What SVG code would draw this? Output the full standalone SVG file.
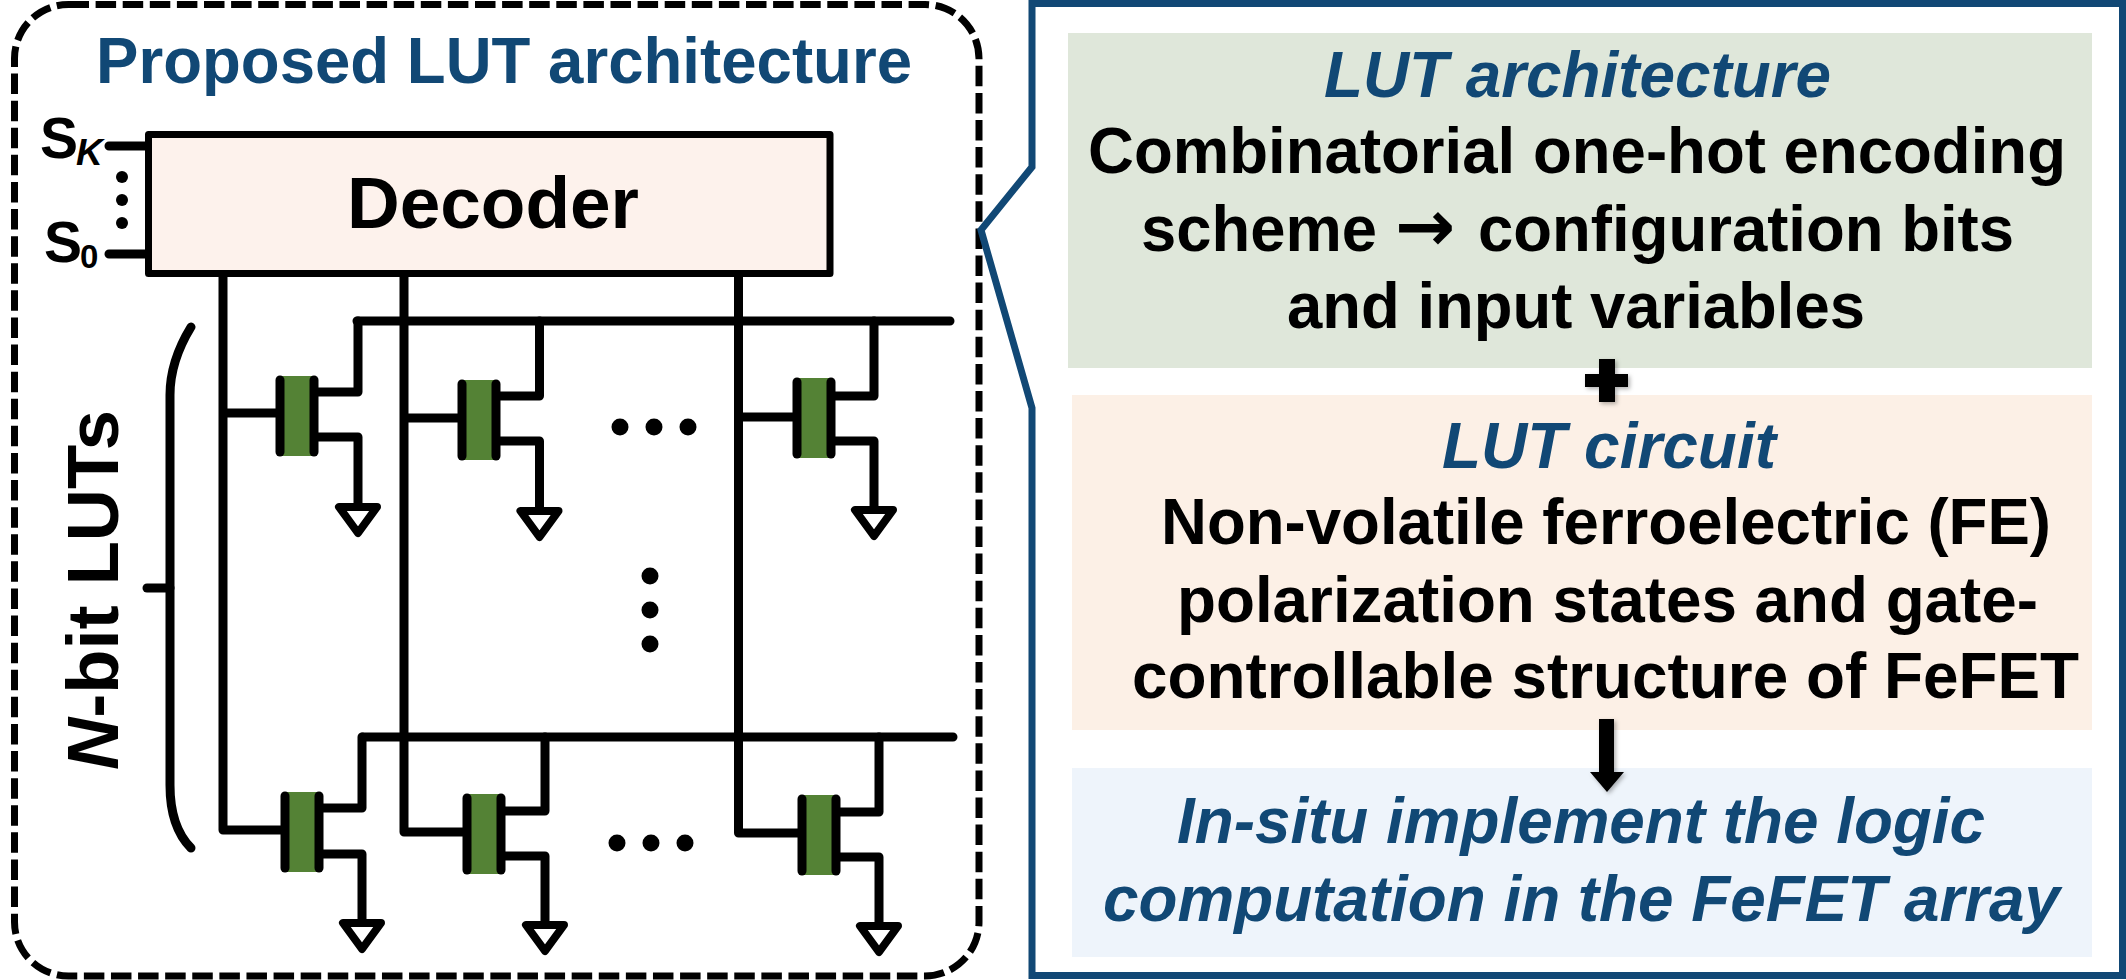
<svg xmlns="http://www.w3.org/2000/svg" width="2126" height="980" viewBox="0 0 2126 980">
<style>
text{font-family:"Liberation Sans",Arial,sans-serif;font-weight:700;fill:#000}
.navy{fill:#114875}
.it{font-style:italic}
.body{font-size:65px}
.wire{fill:none;stroke:#000;stroke-width:9;stroke-linecap:round;stroke-linejoin:round}
.bus{fill:none;stroke:#000;stroke-width:9;stroke-linecap:round}
.gnd{fill:#fff;stroke:#000;stroke-width:8;stroke-linejoin:round}
.ch{fill:#548235}
.bar{stroke:#000;stroke-width:9;stroke-linecap:round}
.dot{fill:#000}
</style>
<defs>
<polygon id="gndShape" class="gnd" points="-19,0 19,0 0,26"/>
<g id="fet">
<rect class="ch" x="0" y="0" width="34" height="80"/>
<line class="bar" x1="0" y1="4" x2="0" y2="76"/>
<line class="bar" x1="34" y1="4" x2="34" y2="76"/>
</g>
<filter id="soft" x="-30%" y="-30%" width="160%" height="160%"><feDropShadow dx="2" dy="2" stdDeviation="2" flood-color="#000" flood-opacity="0.3"/></filter>
</defs>
<rect width="2126" height="980" fill="#fff"/>
<g id="left-panel">
<rect x="14.500" y="4.500" width="964.500" height="971.500" rx="54" ry="54" fill="#fff" stroke="#000" stroke-width="7" stroke-dasharray="20.5 6.6"/>
<text class="navy" x="96" y="83" font-size="65" textLength="816" lengthAdjust="spacingAndGlyphs">Proposed LUT architecture</text>
</g>
<g id="connectors">
<path class="wire" d="M223 277V830H285M223 413H280"/>
<path class="wire" d="M404 277V832H467M404 418H462"/>
<path class="wire" d="M738.5 277V833H802M738.5 417H797"/>
<path class="bus" d="M357 321H950M363 737H953"/>
<path class="wire" d="M314 392H358V321M314 437H358V507"/>
<path class="wire" d="M496 396H539.5V321M496 441H539.5V511"/>
<path class="wire" d="M831 396H874V321M831 441H874V510"/>
<path class="wire" d="M319 808H362V737M319 854H362V923"/>
<path class="wire" d="M501 811H545V737M501 856H545V925"/>
<path class="wire" d="M836 812H879V737M836 857H879V926"/>
<path class="bus" d="M109 146H145M109 254H145"/>
<path class="wire" d="M191 327C180 345 170 370 170 395V785C170 815 178 835 191 848" stroke-width="8"/>
<path class="wire" d="M147 588H170"/>
</g>
<g id="decoder">
<rect x="148.500" y="134.500" width="681.500" height="139" fill="#FDF2EC" stroke="#000" stroke-width="7" stroke-linejoin="round"/>
<text x="347" y="228" font-size="73" textLength="292" lengthAdjust="spacingAndGlyphs">Decoder</text>
</g>
<g id="select-labels">
<text x="40" y="158" font-size="57">S</text>
<text class="it" x="76" y="165" font-size="37">K</text>
<text x="44" y="262" font-size="57">S</text>
<text x="80" y="268" font-size="33">0</text>
<circle class="dot" cx="122" cy="177" r="6"/>
<circle class="dot" cx="122" cy="200" r="6"/>
<circle class="dot" cx="122" cy="223" r="6"/>
</g>
<g id="fet-r1c1"><use href="#fet" x="280" y="376"/><use href="#gndShape" x="358" y="507"/></g>
<g id="fet-r1c2"><use href="#fet" x="462" y="380"/><use href="#gndShape" x="539.500" y="511"/></g>
<g id="fet-r1c3"><use href="#fet" x="797" y="378"/><use href="#gndShape" x="874" y="510"/></g>
<g id="fet-r2c1"><use href="#fet" x="285" y="792"/><use href="#gndShape" x="362" y="923"/></g>
<g id="fet-r2c2"><use href="#fet" x="467" y="794"/><use href="#gndShape" x="545" y="925"/></g>
<g id="fet-r2c3"><use href="#fet" x="802" y="795"/><use href="#gndShape" x="879" y="926"/></g>
<g id="ellipsis">
<circle class="dot" cx="620" cy="427" r="8.500"/><circle class="dot" cx="654" cy="427" r="8.500"/><circle class="dot" cx="688" cy="427" r="8.500"/>
<circle class="dot" cx="617" cy="843" r="8.500"/><circle class="dot" cx="651" cy="843" r="8.500"/><circle class="dot" cx="685" cy="843" r="8.500"/>
<circle class="dot" cx="650" cy="576" r="8.500"/><circle class="dot" cx="650" cy="610" r="8.500"/><circle class="dot" cx="650" cy="644" r="8.500"/>
</g>
<g id="nbit-label">
<text transform="translate(118 770) rotate(-90)" font-size="73" textLength="360" lengthAdjust="spacingAndGlyphs"><tspan class="it">N</tspan>-bit LUTs</text>
</g>
<g id="callout">
<path d="M1032 3.500H2122.500V975.500H1032V408L981 230L1032 167Z" fill="#fff" stroke="#114875" stroke-width="7"/>
</g>
<g id="box-architecture">
<rect x="1068" y="33" width="1024" height="335" fill="#DFE7DA"/>
<text class="navy it body" x="1324" y="97" textLength="507" lengthAdjust="spacingAndGlyphs">LUT architecture</text>
<text class="body" x="1088" y="173" textLength="978" lengthAdjust="spacingAndGlyphs">Combinatorial one-hot encoding</text>
<text class="body" y="251"><tspan x="1141" textLength="236" lengthAdjust="spacingAndGlyphs">scheme</tspan> <tspan x="1395" font-family="DejaVu Sans" font-weight="700" font-size="72">→</tspan> <tspan x="1478" textLength="536" lengthAdjust="spacingAndGlyphs">configuration bits</tspan></text>
<text class="body" x="1287" y="328" textLength="578" lengthAdjust="spacingAndGlyphs">and input variables</text>
</g>
<g id="box-circuit">
<rect x="1072" y="395" width="1020" height="335" fill="#FCF0E6"/>
<text class="navy it body" x="1442" y="468" textLength="334" lengthAdjust="spacingAndGlyphs">LUT circuit</text>
<text class="body" x="1161" y="544" textLength="890" lengthAdjust="spacingAndGlyphs">Non-volatile ferroelectric (FE)</text>
<text class="body" x="1177" y="622" textLength="861" lengthAdjust="spacingAndGlyphs">polarization states and gate-</text>
<text class="body" x="1132" y="698" textLength="947" lengthAdjust="spacingAndGlyphs">controllable structure of FeFET</text>
</g>
<g id="box-result">
<rect x="1072" y="768" width="1020" height="189" fill="#EEF4FB"/>
<text class="navy it body" x="1177" y="843" textLength="808" lengthAdjust="spacingAndGlyphs">In-situ implement the logic</text>
<text class="navy it body" x="1103" y="921" textLength="957" lengthAdjust="spacingAndGlyphs">computation in the FeFET array</text>
</g>
<g id="operators" filter="url(#soft)">
<path d="M1599 359H1615V374H1628V387H1615V402H1599V387H1585V374H1599Z" fill="#000"/>
<path d="M1599 719H1614V772H1624L1607 792L1590 772H1599Z" fill="#000"/>
</g>
</svg>
